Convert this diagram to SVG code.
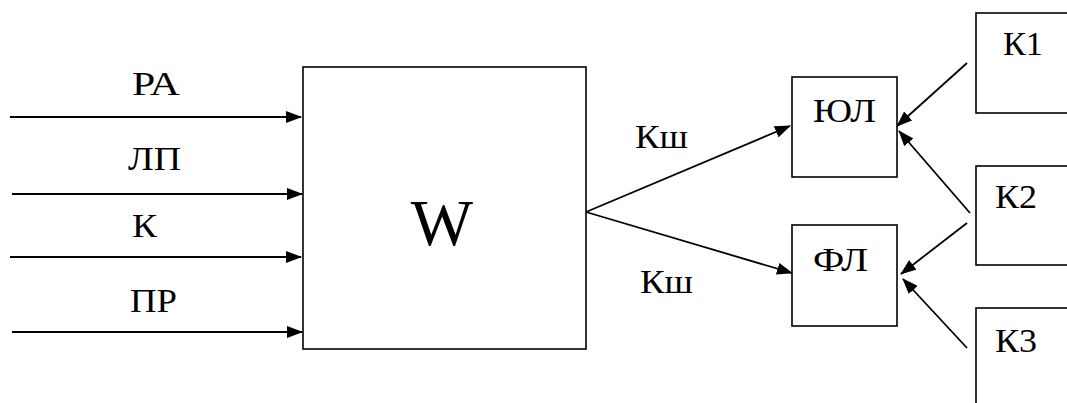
<svg xmlns="http://www.w3.org/2000/svg" width="1067" height="403" viewBox="0 0 1067 403">
<defs>
<marker id="ah" markerWidth="16" markerHeight="12" refX="15" refY="6" orient="auto" markerUnits="userSpaceOnUse">
<path d="M0,0 L16,6 L0,12 Z" fill="#000"/>
</marker>
</defs>
<rect width="1067" height="403" fill="#fff"/>
<g id="connectors" stroke="#000" stroke-width="1.8" fill="none" marker-end="url(#ah)">
<line x1="10" y1="117" x2="301" y2="117"/>
<line x1="12" y1="194" x2="302" y2="194"/>
<line x1="10" y1="257" x2="301" y2="257"/>
<line x1="12" y1="332" x2="302" y2="332"/>
<line x1="586" y1="212" x2="790" y2="126"/>
<line x1="586" y1="212" x2="792" y2="273"/>
<line x1="967" y1="63" x2="897" y2="126"/>
<line x1="970" y1="213" x2="899" y2="131"/>
<line x1="967" y1="223" x2="901" y2="274"/>
<line x1="967" y1="348" x2="903" y2="279"/>
</g>
<g id="labels" font-family="Liberation Serif" font-size="33" fill="#000">
<text x="132" y="95" textLength="48" lengthAdjust="spacingAndGlyphs">РА</text>
<text x="128" y="170" textLength="53" lengthAdjust="spacingAndGlyphs">ЛП</text>
<text x="132" y="237" textLength="25" lengthAdjust="spacingAndGlyphs">К</text>
<text x="130" y="312" textLength="47" lengthAdjust="spacingAndGlyphs">ПР</text>
<text x="635" y="148" textLength="53" lengthAdjust="spacingAndGlyphs">Кш</text>
<text x="640" y="293" textLength="53" lengthAdjust="spacingAndGlyphs">Кш</text>
</g>
<g id="W">
<rect x="303" y="67" width="283" height="282" fill="#fff" stroke="#000" stroke-width="1.6"/>
<text x="442" y="245" text-anchor="middle" font-family="Liberation Serif" font-size="66">W</text>
</g>
<g id="UL">
<rect x="792" y="77" width="105" height="100" fill="#fff" stroke="#000" stroke-width="1.6"/>
<text x="813" y="122" font-family="Liberation Serif" font-size="33" textLength="63" lengthAdjust="spacingAndGlyphs">ЮЛ</text>
</g>
<g id="FL">
<rect x="792" y="225" width="105" height="101" fill="#fff" stroke="#000" stroke-width="1.6"/>
<text x="813" y="271" font-family="Liberation Serif" font-size="33" textLength="55" lengthAdjust="spacingAndGlyphs">ФЛ</text>
</g>
<g id="K1">
<rect x="976" y="13" width="100" height="100" fill="#fff" stroke="#000" stroke-width="1.6"/>
<text x="1003" y="55" font-family="Liberation Serif" font-size="33" textLength="40" lengthAdjust="spacingAndGlyphs">К1</text>
</g>
<g id="K2">
<rect x="976" y="166" width="100" height="99" fill="#fff" stroke="#000" stroke-width="1.6"/>
<text x="995" y="208" font-family="Liberation Serif" font-size="33" textLength="42" lengthAdjust="spacingAndGlyphs">К2</text>
</g>
<g id="K3">
<rect x="976" y="308" width="100" height="110" fill="#fff" stroke="#000" stroke-width="1.6"/>
<text x="995" y="352" font-family="Liberation Serif" font-size="33" textLength="42" lengthAdjust="spacingAndGlyphs">К3</text>
</g>
</svg>
